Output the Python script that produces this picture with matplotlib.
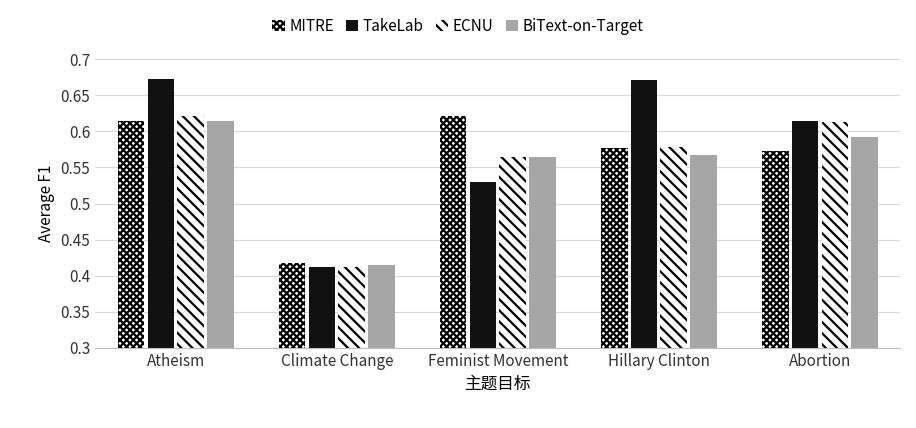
import matplotlib
matplotlib.use('Agg')
import matplotlib.pyplot as plt
import numpy as np

plt.rcParams['font.family'] = ['Noto Sans CJK SC', 'DejaVu Sans']
plt.rcParams['hatch.linewidth'] = 1.6

categories = ['Atheism', 'Climate Change', 'Feminist Movement', 'Hillary Clinton', 'Abortion']
series = ['MITRE', 'TakeLab', 'ECNU', 'BiText-on-Target']
mitre = [0.614, 0.418, 0.621, 0.577, 0.573]
takelab = [0.672, 0.412, 0.530, 0.671, 0.614]
ecnu = [0.621, 0.412, 0.564, 0.578, 0.613]
bitext = [0.614, 0.415, 0.564, 0.567, 0.592]
values = [mitre, takelab, ecnu, bitext]

fig = plt.figure(figsize=(9.16, 4.28), dpi=100)
ax = fig.add_axes([0.104, 0.187, 0.879, 0.675])
x = np.arange(len(categories))
w = 0.165
styles = [
    dict(facecolor='white', edgecolor='black', hatch='xxxxx', linewidth=0),
    dict(facecolor='#111111', edgecolor='#111111', linewidth=0),
    dict(facecolor='white', edgecolor='black', hatch='\\\\\\', linewidth=0),
    dict(facecolor='#a6a6a6', edgecolor='#a6a6a6', linewidth=0),
]
for i, (s, v) in enumerate(zip(series, values)):
    ax.bar(x + (i - 1.5) * w * 1.12, v, w, label=s, **styles[i])

ax.set_ylim(0.3, 0.7)
ax.set_yticks(np.arange(0.3, 0.701, 0.05))
ax.set_yticklabels(['0.3', '0.35', '0.4', '0.45', '0.5', '0.55', '0.6', '0.65', '0.7'], fontsize=11)
ax.set_xticks(x)
ax.set_xticklabels(categories, fontsize=11)
ax.set_xlim(-0.5, 4.5)
ax.grid(axis='y', color='#d9d9d9', linewidth=0.8)
ax.set_axisbelow(True)
for sp in ['top', 'right', 'left']:
    ax.spines[sp].set_visible(False)
ax.spines['bottom'].set_color('#bfbfbf')
ax.tick_params(length=0, colors='#333333')
ax.set_ylabel('Average F1', fontsize=11)
ax.set_xlabel('主题目标', fontsize=12)
fig.legend(loc='upper center', bbox_to_anchor=(0.5, 0.99), ncol=4, frameon=False,
           fontsize=11, handlelength=0.8, handletextpad=0.3, columnspacing=0.8)
fig.savefig('out.png', dpi=100)
